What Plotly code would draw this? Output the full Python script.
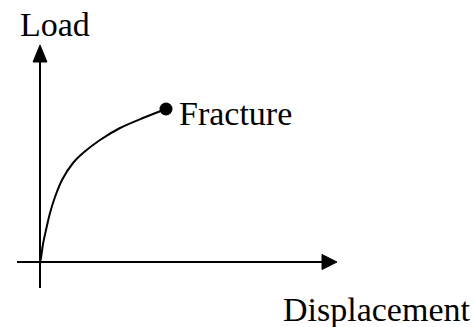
import plotly.graph_objects as go

# Schematic load-displacement curve (arbitrary units)
displacement = [0, 1, 3, 6, 10, 15, 22, 33, 43, 60, 80, 103, 126]
load = [0, 4, 18, 32, 49, 65, 82, 99, 109, 122, 134, 144, 153]
fracture_point = (126, 153)

axis_label_x = "Displacement"
axis_label_y = "Load"
fracture_label = "Fracture"

W, H = 475, 327
FONT = "Liberation Serif, Times New Roman, serif"

fig = go.Figure()

fig.add_trace(go.Scatter(
    x=displacement, y=load, mode="lines",
    line=dict(color="black", width=2, shape="spline", smoothing=0.8),
    hoverinfo="skip", showlegend=False))

fig.add_trace(go.Scatter(
    x=[fracture_point[0]], y=[fracture_point[1]], mode="markers",
    marker=dict(color="black", size=13),
    hoverinfo="skip", showlegend=False))

# axes lines
fig.add_shape(type="line", x0=-23, y0=0, x1=284, y1=0,
              line=dict(color="black", width=2))
fig.add_shape(type="line", x0=0, y0=-26, x1=0, y1=202,
              line=dict(color="black", width=2))
# arrowheads
fig.add_shape(type="path", path="M 297 0 L 282 7.5 L 282 -7.5 Z",
              fillcolor="black", line=dict(color="black", width=1))
fig.add_shape(type="path", path="M 0 217 L -7 200 L 7 200 Z",
              fillcolor="black", line=dict(color="black", width=1))

fig.add_annotation(x=-22, y=238, text=axis_label_y, showarrow=False,
                   xanchor="left", yanchor="middle",
                   font=dict(family=FONT, size=34, color="black"))
fig.add_annotation(x=137, y=149, text=fracture_label, showarrow=False,
                   xanchor="left", yanchor="middle",
                   font=dict(family=FONT, size=34, color="black"))
fig.add_annotation(x=241, y=-47, text=axis_label_x, showarrow=False,
                   xanchor="left", yanchor="middle",
                   font=dict(family=FONT, size=34, color="black"))

fig.update_layout(
    width=W, height=H,
    margin=dict(l=0, r=0, t=0, b=0),
    paper_bgcolor="white", plot_bgcolor="white",
    hovermode=False,
    xaxis=dict(range=[-40, 435], visible=False, fixedrange=True),
    yaxis=dict(range=[-65, 262], visible=False, fixedrange=True),
)

fig.write_html("out.html",
               config={"displayModeBar": False, "staticPlot": True},
               post_script="document.body.style.margin='0';document.body.style.overflow='hidden';")
